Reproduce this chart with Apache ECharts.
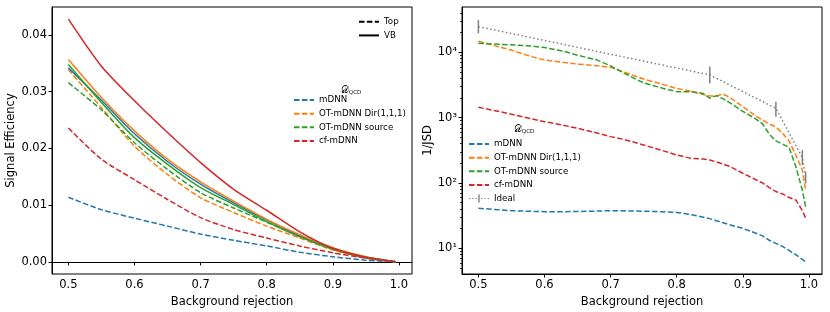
<!DOCTYPE html>
<html><head><meta charset="utf-8">
<script src="https://cdn.jsdelivr.net/npm/echarts@6/dist/echarts.min.js"></script>
<style>html,body{margin:0;padding:0;background:#fff}#c{width:830px;height:312px}</style>
</head><body><div id="c"></div>
<script>
// ---------- data: left panel (signal efficiency) ----------
const X_EFF = [0.5, 0.55, 0.6, 0.65, 0.7, 0.75, 0.8, 0.85, 0.9, 0.95, 0.995];
const EFF_TOP_MDNN   = [0.0114, 0.0092, 0.0077, 0.0063, 0.0049, 0.0038, 0.0028, 0.0017, 0.0009, 0.0003, 0];
const EFF_TOP_OTDIR  = [0.0339, 0.0272, 0.0204, 0.0154, 0.0113, 0.0087, 0.0063, 0.0042, 0.0021, 0.0007, 0];
const EFF_TOP_OTSRC  = [0.0316, 0.0268, 0.0210, 0.0163, 0.0122, 0.0095, 0.0070, 0.0045, 0.0022, 0.0007, 0];
const EFF_TOP_CF     = [0.0236, 0.0181, 0.0145, 0.0110, 0.0078, 0.0057, 0.0042, 0.0028, 0.0016, 0.00065, 0];
const EFF_VB_MDNN    = [0.0342, 0.0285, 0.0226, 0.0177, 0.0137, 0.0104, 0.0074, 0.0046, 0.0024, 0.0008, 0];
const EFF_VB_OTDIR   = [0.0357, 0.0290, 0.0231, 0.0181, 0.0141, 0.0107, 0.0075, 0.0048, 0.0025, 0.0009, 0];
const EFF_VB_OTSRC   = [0.0348, 0.0281, 0.0219, 0.0172, 0.0131, 0.0101, 0.0071, 0.0044, 0.0023, 0.0008, 0];
const EFF_VB_CF      = [0.0428, 0.0345, 0.0284, 0.0228, 0.0175, 0.0128, 0.0091, 0.0053, 0.0024, 0.0008, 0];

// ---------- data: right panel (1/JSD) ----------
const X_JSD = [0.5, 0.53, 0.55, 0.58, 0.6, 0.63, 0.65, 0.68, 0.7, 0.72, 0.75, 0.78, 0.8, 0.82, 0.84, 0.85, 0.86, 0.87, 0.88, 0.9, 0.92, 0.93, 0.94, 0.95, 0.96, 0.97, 0.98, 0.99, 0.995];
const JSD_MDNN  = [41, 39, 37.7, 36.8, 36.4, 36.4, 36.6, 37.2, 37.7, 37.5, 37, 36.3, 35.5, 33, 30, 28.5, 26.5, 24.7, 23, 20.2, 17, 15.5, 13.3, 11.9, 10.7, 9.3, 8, 6.8, 6.2];
const JSD_OTDIR = [14800, 12200, 10800, 8600, 7600, 6950, 6600, 6200, 5900, 5000, 3900, 3200, 2800, 2550, 2250, 2150, 2150, 2300, 2050, 1470, 1050, 920, 800, 720, 580, 440, 270, 158, 78];
const JSD_OTSRC = [13700, 13250, 13000, 12500, 11800, 10300, 9000, 7600, 6200, 4800, 3400, 2800, 2500, 2500, 2350, 1980, 2170, 1950, 1700, 1250, 950, 800, 560, 440, 395, 350, 180, 78, 43];
const JSD_CF    = [1440, 1250, 1125, 960, 868, 760, 687, 580, 512, 465, 382, 310, 268, 240, 232, 225, 210, 195, 180, 141, 112, 100, 85, 74, 68, 60, 55, 38, 29];
const X_IDEAL   = [0.5, 0.85, 0.95, 0.99, 0.995];
const JSD_IDEAL = [24700, 4500, 1390, 245, 123];
const IDEAL_LO  = [19500, 3360, 1035, 189, 99];
const IDEAL_HI  = [31300, 6040, 1757, 320, 149];

// ---------- ticks ----------
const X_TICKS = [0.5, 0.6, 0.7, 0.8, 0.9, 1.0];
const EFF_TICKS = [0, 0.01, 0.02, 0.03, 0.04];
const JSD_TICKS = [10, 100, 1000, 10000];
const JSD_MINOR = [5,6,7,8,9,20,30,40,50,60,70,80,90,200,300,400,500,600,700,800,900,2000,3000,4000,5000,6000,7000,8000,9000,20000,30000,40000];
const NAMES = ['mDNN', 'OT-mDNN Dir(1,1,1)', 'OT-mDNN source', 'cf-mDNN'];
const COLORS = ['#1f77b4', '#ff7f0e', '#2ca02c', '#d62728'];

const FONT = 'DejaVu Sans';
const zip = (xs, ys) => xs.map((x, i) => [x, ys[i]]);
const DASH = [5.5, 2.4];

const topSets = [EFF_TOP_MDNN, EFF_TOP_OTDIR, EFF_TOP_OTSRC, EFF_TOP_CF];
const vbSets = [EFF_VB_MDNN, EFF_VB_OTDIR, EFF_VB_OTSRC, EFF_VB_CF];
const jsdSets = [JSD_MDNN, JSD_OTDIR, JSD_OTSRC, JSD_CF];

const series = [];
NAMES.forEach((n, i) => {
  series.push({name: n, type: 'line', xAxisIndex: 0, yAxisIndex: 0, data: zip(X_EFF, topSets[i]),
    symbol: 'none', smooth: 0.25, color: COLORS[i], lineStyle: {width: 1.5, type: DASH}, z: 2});
});
NAMES.forEach((n, i) => {
  series.push({name: n, type: 'line', xAxisIndex: 0, yAxisIndex: 0, data: zip(X_EFF, vbSets[i]),
    symbol: 'none', smooth: 0.25, color: COLORS[i], lineStyle: {width: 1.5, type: 'solid'}, z: 3});
});
series.push({name: 'Top', type: 'line', xAxisIndex: 0, yAxisIndex: 0, data: [], symbol: 'none', color: '#000', lineStyle: {width: 1.5, type: DASH}});
series.push({name: 'VB', type: 'line', xAxisIndex: 0, yAxisIndex: 0, data: [], symbol: 'none', color: '#000', lineStyle: {width: 1.5, type: 'solid'}});
NAMES.forEach((n, i) => {
  series.push({name: n, type: 'line', xAxisIndex: 1, yAxisIndex: 1, data: zip(X_JSD, jsdSets[i]),
    symbol: 'none', color: COLORS[i], lineStyle: {width: 1.5, type: DASH}, z: 2});
});
series.push({name: 'Ideal', type: 'line', xAxisIndex: 1, yAxisIndex: 1, data: zip(X_IDEAL, JSD_IDEAL),
  symbol: 'none', color: '#7f7f7f', lineStyle: {width: 1.5, type: [1.5, 2.5]}, z: 2});
series.push({name: 'Ideal', type: 'custom', xAxisIndex: 1, yAxisIndex: 1,
  data: X_IDEAL.map((x, i) => [x, IDEAL_LO[i], IDEAL_HI[i]]),
  renderItem: (params, api) => {
    const a = api.coord([api.value(0), api.value(1)]);
    const b = api.coord([api.value(0), api.value(2)]);
    return {type: 'line', shape: {x1: a[0], y1: a[1], x2: b[0], y2: b[1]}, style: {stroke: '#7f7f7f', lineWidth: 1.5}};
  }, z: 3});

function xAxis(gi) {
  return {type: 'value', gridIndex: gi, min: 0.47525, max: 1.01975,
    axisLine: {show: true, lineStyle: {color: '#000', width: 1}},
    axisTick: {show: true, customValues: X_TICKS, length: 3.5, lineStyle: {color: '#000', width: 1}},
    axisLabel: {customValues: X_TICKS, formatter: v => v.toFixed(1), fontSize: 11.5, color: '#000', fontFamily: FONT, margin: 5},
    splitLine: {show: false},
    name: 'Background rejection', nameLocation: 'middle', nameGap: 18,
    nameTextStyle: {fontSize: 11.5, color: '#000', fontFamily: FONT}};
}
const SUP = {'1': '\u00b9', '2': '\u00b2', '3': '\u00b3', '4': '\u2074'};

const legendBase = {orient: 'vertical', itemWidth: 20, itemHeight: 8, itemGap: 4.6, padding: 0,
  textStyle: {fontSize: 8.7, color: '#000', fontFamily: FONT},
  itemStyle: {opacity: 0}, selectedMode: false};

const idealIcon = 'path://M0,3.4h1.2v1.2h-1.2z M3.3,3.4h1.2v1.2h-1.2z M6.6,3.4h1.2v1.2h-1.2z M9.3,0h1.4v8h-1.4z M12.2,3.4h1.2v1.2h-1.2z M15.5,3.4h1.2v1.2h-1.2z M18.8,3.4h1.2v1.2h-1.2z';

const option = {
  animation: false,
  backgroundColor: '#fff',
  grid: [
    {left: 52, right: 418, top: 7, bottom: 38, show: true, borderColor: '#000', borderWidth: 1, outerBoundsMode: 'none'},
    {left: 462, right: 8, top: 7, bottom: 38, show: true, borderColor: '#000', borderWidth: 1, outerBoundsMode: 'none'}
  ],
  xAxis: [xAxis(0), xAxis(1)],
  yAxis: [
    {type: 'value', gridIndex: 0, min: -0.00214, max: 0.04494,
      axisLine: {show: true, lineStyle: {color: '#000'}},
      axisTick: {show: true, customValues: EFF_TICKS, length: 3.5, lineStyle: {color: '#000'}},
      axisLabel: {customValues: EFF_TICKS, formatter: v => v.toFixed(2), fontSize: 11.5, color: '#000', fontFamily: FONT, margin: 5},
      splitLine: {show: false},
      name: 'Signal Efficiency', nameLocation: 'middle', nameGap: 30,
      nameTextStyle: {fontSize: 11.5, color: '#000', fontFamily: FONT}},
    {type: 'log', logBase: 10, gridIndex: 1, min: 4.05, max: 49300,
      axisLine: {show: true, lineStyle: {color: '#000'}},
      axisTick: {show: true, customValues: JSD_TICKS, length: 3.5, lineStyle: {color: '#000'}},
      axisLabel: {customValues: JSD_TICKS, formatter: v => '10' + SUP[String(Math.round(Math.log10(v)))], fontSize: 11.5, color: '#000', fontFamily: FONT, margin: 5},
      splitLine: {show: false},
      name: '1/JSD', nameLocation: 'middle', nameGap: 23,
      nameTextStyle: {fontSize: 11.5, color: '#000', fontFamily: FONT}},
    {type: 'log', logBase: 10, gridIndex: 1, min: 4.05, max: 49300, position: 'left',
      axisLine: {show: false},
      axisTick: {show: true, customValues: JSD_MINOR, length: 2, lineStyle: {color: '#000', width: 0.8}},
      axisLabel: {show: false}, splitLine: {show: false}}
  ],
  legend: [
    Object.assign({}, legendBase, {left: 293, top: 95.6, data: NAMES}),
    Object.assign({}, legendBase, {left: 358, top: 17.3, data: ['Top', 'VB']}),
    Object.assign({}, legendBase, {left: 468, top: 139.6,
      data: NAMES.concat([{name: 'Ideal', icon: idealIcon, itemStyle: {opacity: 1, color: '#7f7f7f', borderWidth: 0}}])})
  ],
  graphic: [
    {type: 'text', x: 351, y: 91, style: {text: '{d|\ud835\udc9f}{s|QCD}', align: 'center', verticalAlign: 'middle',
      rich: {d: {fontSize: 9.5, fontFamily: 'DejaVu Serif', fill: '#000'}, s: {fontSize: 5.5, fontFamily: FONT, fill: '#000', verticalAlign: 'bottom'}}}},
    {type: 'text', x: 524, y: 130, style: {text: '{d|\ud835\udc9f}{s|QCD}', align: 'center', verticalAlign: 'middle',
      rich: {d: {fontSize: 9.5, fontFamily: 'DejaVu Serif', fill: '#000'}, s: {fontSize: 5.5, fontFamily: FONT, fill: '#000', verticalAlign: 'bottom'}}}}
  ],
  series: series
};
const chart = echarts.init(document.getElementById('c'), null, {renderer: 'canvas'});
chart.setOption(option);
</script>
</body></html>
